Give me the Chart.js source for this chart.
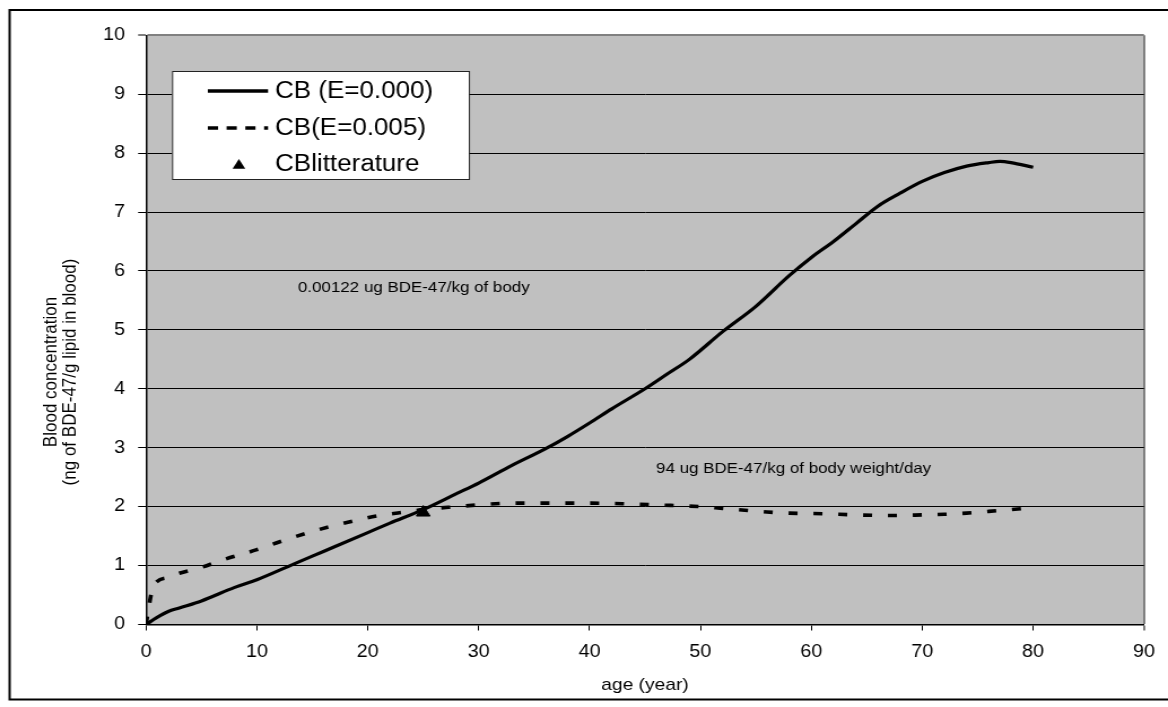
<!DOCTYPE html>
<html>
<head>
<meta charset="utf-8">
<script src="https://cdn.jsdelivr.net/npm/chart.js@4.4.1/dist/chart.umd.min.js"></script>
<style>
html,body{margin:0;padding:0;background:#fff;overflow:hidden;width:1168px;height:707px;}
#wrap{position:absolute;left:0;top:0;width:1034px;height:707px;transform:scaleX(1.12959);transform-origin:0 0;}
</style>
</head>
<body>
<div id="wrap"><canvas id="c"></canvas></div>
<script>
// ---- data ----
const seriesNames = ['CB (E=0.000)', 'CB(E=0.005)', 'CBlitterature'];

const ageE0 = [0, 1, 2, 3, 5, 8, 10, 13, 15, 17, 20, 22, 25, 28, 30, 33, 36, 38, 40, 42, 45, 47, 49, 52, 55, 58, 60, 62, 64, 66, 68, 70, 72, 74, 76, 77, 78, 80];
const cbE0  = [0, 0.12, 0.22, 0.28, 0.40, 0.63, 0.76, 1.0, 1.16, 1.32, 1.56, 1.72, 1.95, 2.22, 2.40, 2.70, 2.98, 3.19, 3.42, 3.66, 4.0, 4.25, 4.5, 4.97, 5.4, 5.92, 6.23, 6.5, 6.8, 7.1, 7.32, 7.52, 7.67, 7.78, 7.84, 7.86, 7.84, 7.76];

const ageE5 = [0, 0.3, 0.6, 1, 2, 3, 5, 7, 10, 12, 15, 17, 19, 21, 23, 25, 28, 30, 33, 36, 40, 43, 46, 50, 52, 54, 56, 58, 61, 64, 67, 70, 72, 74, 76, 78, 80];
const cbE5  = [0, 0.35, 0.62, 0.73, 0.8, 0.87, 0.97, 1.1, 1.27, 1.4, 1.58, 1.68, 1.77, 1.85, 1.9, 1.95, 2.0, 2.03, 2.06, 2.06, 2.06, 2.05, 2.03, 2.0, 1.97, 1.94, 1.91, 1.89, 1.88, 1.86, 1.85, 1.86, 1.87, 1.89, 1.92, 1.95, 1.98];

const litAge = [25];
const litCB  = [1.9];

const xTickValues = [0, 10, 20, 30, 40, 50, 60, 70, 80, 90];
const yTickValues = [0, 1, 2, 3, 4, 5, 6, 7, 8, 9, 10];

const xTitle = 'age (year)';
const yTitle = ['Blood concentration', '(ng of BDE-47/g lipid in blood)'];

const annotationTexts  = ['0.00122 ug BDE-47/kg of body', '94 ug BDE-47/kg of body weight/day'];
const annotationAges   = [13.7, 46.0];
const annotationValues = [5.71, 2.65];

// ---- chart ----
const FONT = '"Liberation Sans", Arial, sans-serif';
const pts = (xs, ys) => xs.map((x, i) => ({x: x, y: ys[i]}));

const decor = {
  id: 'decor',
  beforeDraw(chart) {
    const {ctx, chartArea: a} = chart;
    ctx.save();
    ctx.fillStyle = '#C0C0C0';
    ctx.fillRect(a.left, a.top, a.right - a.left, a.bottom - a.top);
    ctx.restore();
  },
  afterDraw(chart) {
    const {ctx, scales: {x, y}} = chart;
    ctx.save();
    // annotations
    ctx.fillStyle = '#000';
    ctx.font = '15px ' + FONT;
    ctx.textAlign = 'left';
    ctx.textBaseline = 'middle';
    annotationTexts.forEach((t, i) => {
      ctx.fillText(t, x.getPixelForValue(annotationAges[i]), y.getPixelForValue(annotationValues[i]));
    });
    // y axis title (two lines, rotated)
    ctx.font = '17px ' + FONT;
    ctx.textAlign = 'center';
    ctx.textBaseline = 'middle';
    const lineX = [45.5, 62];
    yTitle.forEach((t, i) => {
      ctx.save();
      ctx.translate(lineX[i], 372);
      ctx.rotate(-Math.PI / 2);
      ctx.fillText(t, 0, 0);
      ctx.restore();
    });
    // legend box
    const bx = 152.3, by = 71, bw = 262.8, bh = 108;
    ctx.fillStyle = '#fff';
    ctx.fillRect(bx, by, bw, bh);
    ctx.strokeStyle = '#222';
    ctx.lineWidth = 1;
    ctx.strokeRect(bx + 0.5, by + 0.5, bw, bh);
    const rows = [91, 128, 164];
    const ds = chart.data.datasets;
    const sx0 = 184, sx1 = 237.3, tx = 243.5;
    ctx.font = '23px ' + FONT;
    ctx.textAlign = 'left';
    ctx.textBaseline = 'middle';
    for (let i = 0; i < 3; i++) {
      const d = ds.find(dd => dd.label === seriesNames[i]);
      const ry = rows[i];
      if (d.showLine === false) {
        const r = 6.5, cx = 211.5, cy = ry + 1.5;
        ctx.beginPath();
        ctx.moveTo(cx, cy - r);
        ctx.lineTo(cx + r * Math.sin(2 * Math.PI / 3), cy - r * Math.cos(2 * Math.PI / 3));
        ctx.lineTo(cx + r * Math.sin(4 * Math.PI / 3), cy - r * Math.cos(4 * Math.PI / 3));
        ctx.closePath();
        ctx.fillStyle = '#000';
        ctx.fill();
      } else {
        ctx.beginPath();
        ctx.strokeStyle = '#000';
        ctx.lineWidth = 3.3;
        ctx.lineCap = 'butt';
        ctx.setLineDash(d.borderDash && d.borderDash.length ? [9, 7.6] : []);
        ctx.moveTo(sx0, ry);
        ctx.lineTo(sx1, ry);
        ctx.stroke();
        ctx.setLineDash([]);
      }
      ctx.fillStyle = '#000';
      ctx.fillText(d.label, tx, ry + 0.5);
    }
    // outer frame (top, left, bottom; right edge lies outside the picture)
    ctx.strokeStyle = '#000';
    ctx.lineWidth = 2;
    ctx.beginPath();
    ctx.moveTo(1040, 10);
    ctx.lineTo(8.5, 10);
    ctx.lineTo(8.5, 699.5);
    ctx.lineTo(1040, 699.5);
    ctx.stroke();
    ctx.restore();
  }
};

new Chart(document.getElementById('c'), {
  type: 'scatter',
  data: {
    datasets: [
      {
        label: seriesNames[2],
        data: pts(litAge, litCB),
        showLine: false,
        pointStyle: 'triangle',
        pointRadius: 7,
        pointHoverRadius: 7,
        backgroundColor: '#000',
        borderColor: '#000',
        borderWidth: 1,
        order: 0
      },
      {
        label: seriesNames[0],
        data: pts(ageE0, cbE0),
        showLine: true,
        borderColor: '#000',
        backgroundColor: '#000',
        borderWidth: 3.2,
        pointRadius: 0,
        cubicInterpolationMode: 'monotone',
        order: 1
      },
      {
        label: seriesNames[1],
        data: pts(ageE5, cbE5),
        showLine: true,
        borderColor: '#000',
        backgroundColor: '#000',
        borderWidth: 3.6,
        borderDash: [8, 14],
        borderCapStyle: 'butt',
        pointRadius: 0,
        cubicInterpolationMode: 'monotone',
        order: 2
      }
    ]
  },
  options: {
    responsive: true,
    maintainAspectRatio: false,
    animation: false,
    devicePixelRatio: 1,
    layout: {padding: {top: 35.3, right: 12.4, left: 0, bottom: 0}},
    plugins: {legend: {display: false}, tooltip: {enabled: false}, title: {display: false}},
    scales: {
      x: {
        type: 'linear',
        min: xTickValues[0],
        max: xTickValues[xTickValues.length - 1],
        afterBuildTicks: s => { s.ticks = xTickValues.map(v => ({value: v})); },
        afterFit: s => { s.height = 82.5; },
        ticks: {color: '#000', font: {family: FONT, size: 17.5}, padding: 11.5, maxRotation: 0},
        grid: {
          drawOnChartArea: true,
          color: c => (c.tick && c.tick.value === 90) ? '#808080' : 'rgba(0,0,0,0)',
          lineWidth: c => (c.tick && c.tick.value === 90) ? 2 : 1,
          tickColor: '#000',
          tickWidth: 1,
          tickLength: 6
        },
        border: {display: true, color: '#000', width: 1.5},
        title: {display: true, text: xTitle, color: '#000', font: {family: FONT, size: 17}, padding: {top: 0, bottom: 11.8}}
      },
      y: {
        type: 'linear',
        min: yTickValues[0],
        max: yTickValues[yTickValues.length - 1],
        afterBuildTicks: s => { s.ticks = yTickValues.map(v => ({value: v})); },
        afterFit: s => { s.width = 129.25; },
        ticks: {color: '#000', font: {family: FONT, size: 17.5}, padding: 11.6},
        grid: {
          color: c => (c.tick && c.tick.value === 10) ? '#808080' : '#000',
          lineWidth: c => (c.tick && c.tick.value === 10) ? 2 : 1,
          tickColor: '#000',
          tickWidth: 1,
          tickLength: 7
        },
        border: {display: true, color: '#000', width: 1.5},
        title: {display: false}
      }
    }
  },
  plugins: [decor]
});
</script>
</body>
</html>
